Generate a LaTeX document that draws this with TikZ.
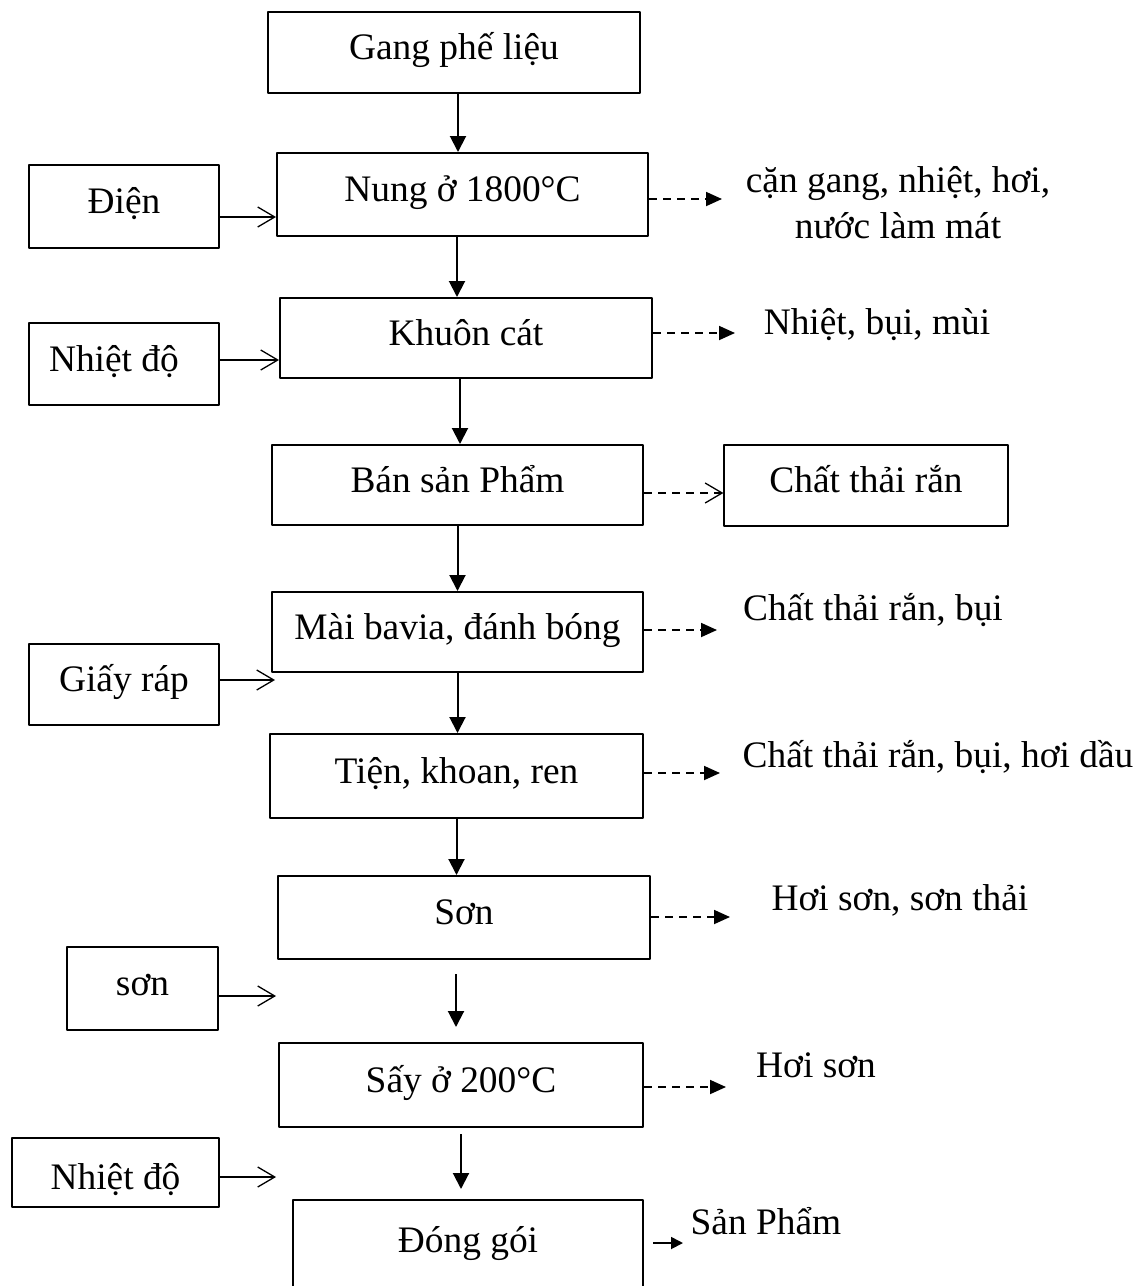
\documentclass[tikz,border=0pt]{standalone}
\usepackage{fontspec}
\setmainfont{Liberation Serif}
\usetikzlibrary{arrows.meta}
\begin{document}
\begin{tikzpicture}[x=0.5pt, y=-0.5pt, line join=round, font=\fontsize{18.7}{23}\selectfont,
  buoc/.style={draw, line width=1pt, inner sep=0pt, text height=13pt, text depth=6pt},
  phu/.style={draw, line width=0.6pt, inner sep=0pt, text height=13pt, text depth=6pt},
  chu/.style={inner sep=0pt, text height=13pt, text depth=6pt},
  chinh/.style={line width=1pt, -{Triangle[length=8pt, width=8pt]}},
  vao/.style={line width=0.65pt, -{Straight Barb[length=8.5pt, width=10pt, line width=0.65pt]}},
  thai/.style={line width=0.9pt, dash pattern=on 4pt off 3pt, -{Triangle[length=8pt, width=7pt]}}]
\useasboundingbox (0,0) rectangle (1140,1286);
\clip (0,0) rectangle (1140,1286);
%Các bước chính
\node[buoc, minimum width=186pt, minimum height=40.5pt] (g1) at (454,52.5) {Gang phế liệu};
\node[buoc, minimum width=185.5pt, minimum height=41.5pt] (g2) at (462.5,194.5) {Nung ở 1800°C};
\node[buoc, minimum width=186pt, minimum height=40pt] (g3) at (466,338) {Khuôn cát};
\node[buoc, minimum width=185.5pt, minimum height=40pt] (g4) at (457.5,485) {Bán sản Phẩm};
\node[buoc, minimum width=185.5pt, minimum height=40pt] (g5) at (457.5,632) {Mài bavia, đánh bóng};
\node[buoc, minimum width=186.5pt, minimum height=42pt] (g6) at (456.5,776) {Tiện, khoan, ren};
\node[buoc, minimum width=186pt, minimum height=41.5pt] (g7) at (464,917.5) {Sơn};
\node[buoc, minimum width=182pt, minimum height=42pt] (g8) at (461,1085) {Sấy ở 200°C};
\node[buoc, minimum width=175pt, minimum height=45pt] (g9) at (468,1245) {Đóng gói};
\draw[chinh] ([xshift=2pt]g1.south) -- ([xshift=2pt]g1.south |- g2.north);
\draw[chinh] ([xshift=-2.75pt]g2.south) -- ([xshift=-2.75pt]g2.south |- g3.north);
\draw[chinh] ([xshift=-3pt]g3.south) -- ([xshift=-3pt]g3.south |- g4.north);
\draw[chinh] (g4.south) -- (g4.south |- g5.north);
\draw[chinh] (g5.south) -- (g5.south |- g6.north);
\draw[chinh] (g6.south) -- (g6.south |- g7.north);
\draw[chinh, shorten <=7pt, shorten >=7.5pt] ([xshift=-4pt]g7.south) -- ([xshift=-4pt]g7.south |- g8.north);
\draw[chinh, shorten <=3pt, shorten >=5pt] (g8.south) -- (g8.south |- g9.north);
%Đầu vào
\node[phu, minimum width=95pt, minimum height=41.5pt] (s1) at (124,206.5) {Điện};
\node[phu, minimum width=95pt, minimum height=41pt, text width=75pt, align=flush left] (s2) at (124,364) {Nhiệt độ};
\node[phu, minimum width=95pt, minimum height=40.5pt] (s3) at (124,684.5) {Giấy ráp};
\node[phu, minimum width=75.5pt, minimum height=41.5pt] (s4) at (142.5,988.5) {sơn};
\node[phu, minimum width=103.5pt, minimum height=34.5pt, text height=16.5pt, text depth=0pt] (s5) at (115.5,1172.5) {Nhiệt độ};
\coordinate (e3) at (275,680);
\coordinate (e4) at (276,996);
\coordinate (e5) at (276,1177);
\draw[vao] ([yshift=-5.25pt]s1.east) -- ([yshift=-5.25pt]s1.east -| g2.west);
\draw[vao] ([yshift=2pt]s2.east) -- ([yshift=2pt]s2.east -| g3.west);
\draw[vao] (s3.east |- e3) -- (e3);
\draw[vao] (s4.east |- e4) -- (e4);
\draw[vao] (s5.east |- e5) -- (e5);
%Chất thải
\node[align=center, inner sep=0pt] (o1) at (898,203) {cặn gang, nhiệt, hơi,\\nước làm mát};
\node[chu] (o2) at (877,327) {Nhiệt, bụi, mùi};
\node[phu, minimum width=142pt, minimum height=40.5pt] (o3) at (866,485.5) {Chất thải rắn};
\node[chu] (o4) at (873,613) {Chất thải rắn, bụi};
\node[chu] (o5) at (938,760) {Chất thải rắn, bụi, hơi dầu};
\node[chu] (o6) at (900,903) {Hơi sơn, sơn thải};
\node[chu] (o7) at (816,1070) {Hơi sơn};
\node[chu] (o8) at (766,1227) {Sản Phẩm};
\coordinate (t1) at (722,199);
\coordinate (t2) at (735,333);
\coordinate (t4) at (717,630);
\coordinate (t5) at (720,773);
\coordinate (t6) at (730,917);
\coordinate (t7) at (726,1087);
\coordinate (t8) at (683,1243);
\draw[thai] (g2.east |- t1) -- (t1);
\draw[thai] (g3.east |- t2) -- (t2);
\draw[thai, -{Straight Barb[length=8.5pt, width=10pt, line width=0.65pt]}] ([yshift=-4pt]g4.east) -- ([yshift=-4pt]g4.east -| o3.west);
\draw[thai] (g5.east |- t4) -- (t4);
\draw[thai] (g6.east |- t5) -- (t5);
\draw[thai] (g7.east |- t6) -- (t6);
\draw[thai] (g8.east |- t7) -- (t7);
\draw[line width=0.9pt, -{Triangle[length=6pt, width=6pt]}, shorten <=4.5pt] (g9.east |- t8) -- (t8);
\end{tikzpicture}
\end{document}
